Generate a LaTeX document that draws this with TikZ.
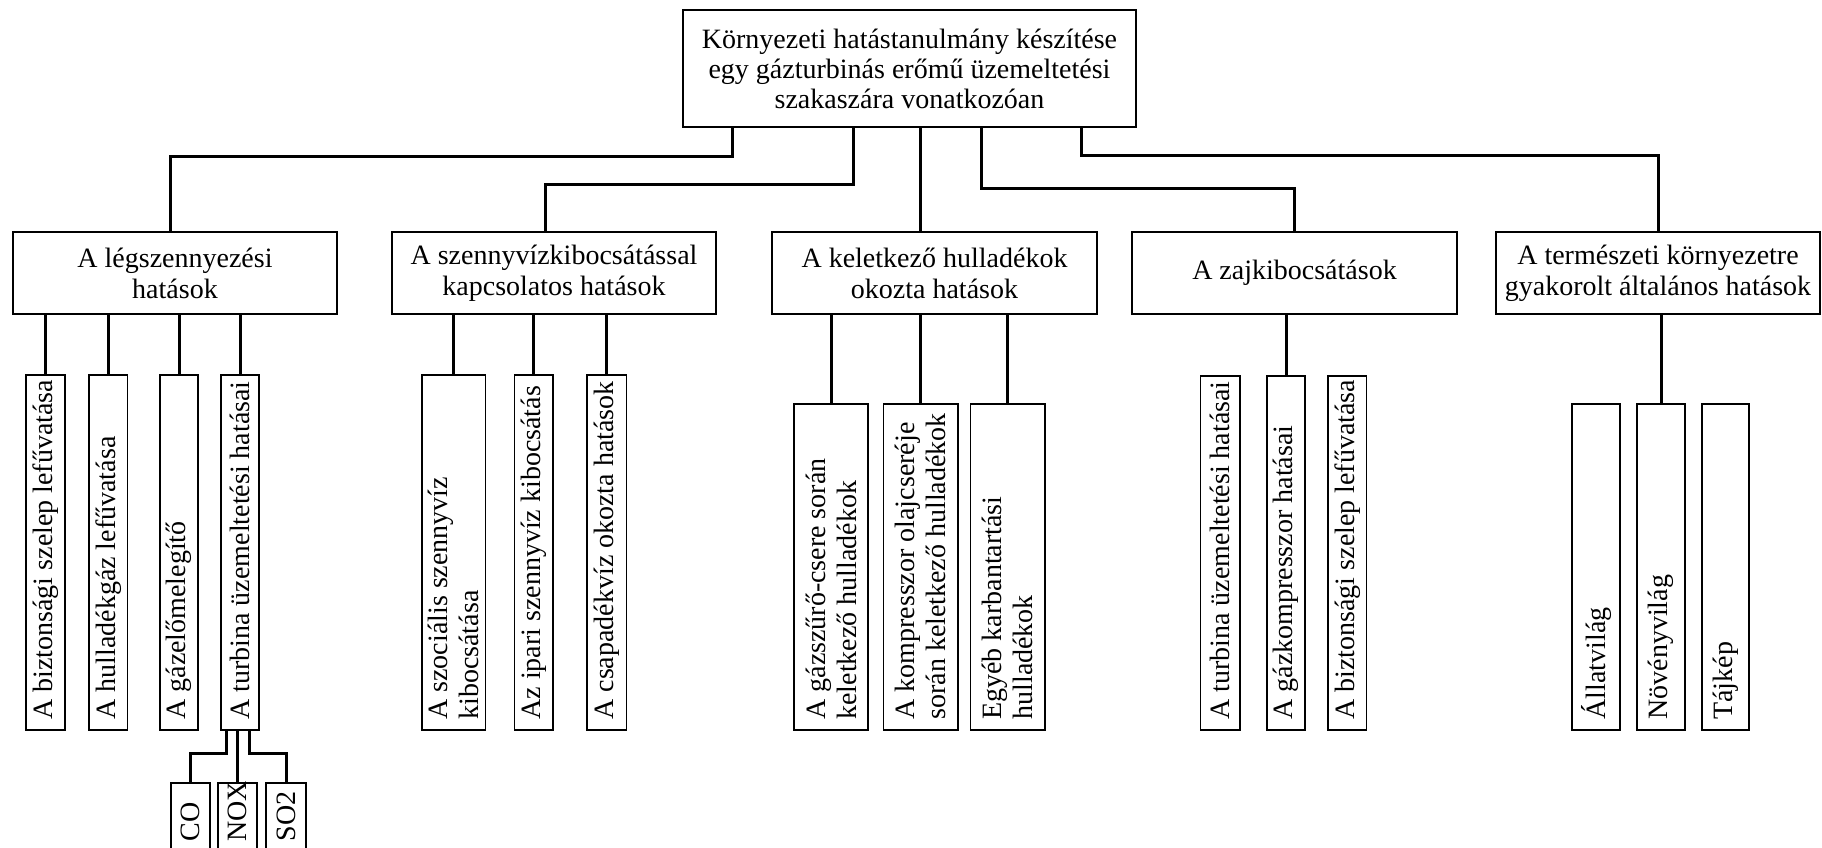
\documentclass[tikz,border=0pt]{standalone}
\usepackage{fontspec}
\setmainfont{Liberation Serif}
\newcommand\leafnode[6]{% name, x-center, top, bottom, width, text
  \pgfmathsetmacro\lflen{#4-#3}%
  \pgfmathsetmacro\lfy{(#3+#4)/2}%
  \node[leaf, minimum width=\lflen pt, minimum height=#5pt] (#1) at (#2,\lfy) {};
  \node[leaftext] (#1-t) at (#1.west) {#6};}
\begin{document}
\begin{tikzpicture}[x=1pt,y=-1pt,
  box/.style={draw, line width=1.5pt, inner sep=0pt, align=center, font=\fontsize{28}{31}\selectfont},
  leaf/.style={draw, line width=1.5pt, rotate=90, inner sep=0pt},
  leaftext/.style={rotate=90, anchor=west, inner xsep=11pt, inner ysep=0pt, align=left, font=\fontsize{28}{31}\selectfont},
  conn/.style={line width=3pt}]
\useasboundingbox (0,0) rectangle (1822,847);
% top
\node[box, minimum width=453pt, minimum height=117pt, font=\fontsize{28}{30}\selectfont] (top) at (909.5,68.5)
  {Környezeti hatástanulmány készítése\\egy gázturbinás erőmű üzemeltetési\\szakaszára vonatkozóan};
% level 2
\node[box, minimum width=324pt, minimum height=82pt] (b1) at (175,273) {A légszennyezési\\hatások};
\node[box, minimum width=324pt, minimum height=82pt] (b2) at (554,273) {A szennyvízkibocsátással\\kapcsolatos hatások};
\node[box, minimum width=325pt, minimum height=82pt] (b3) at (934.5,273) {A keletkező hulladékok\\okozta hatások};
\node[box, minimum width=325pt, minimum height=82pt] (b4) at (1294.5,273) {A zajkibocsátások};
\node[box, minimum width=324pt, minimum height=82pt] (b5) at (1658,273) {A természeti környezetre\\gyakorolt általános hatások};
% leaves of b1
\leafnode{l1}{45.5}{375}{730}{39}{A biztonsági szelep lefűvatása}
\leafnode{l2}{108.3}{375}{730}{38.5}{A hulladékgáz lefűvatása}
\leafnode{l3}{179}{375}{730}{38}{A gázelőmelegítő}
\leafnode{l4}{240}{375}{730}{38}{A turbina üzemeltetési hatásai}
% gases
\leafnode{g1}{190.5}{783}{852}{39}{CO}
\leafnode{g2}{237.5}{783}{852}{39}{NOX}
\leafnode{g3}{286}{783}{852}{40}{SO2}
% leaves of b2
\leafnode{m1}{453.8}{375}{730}{63.5}{A szociális szennyvíz\\kibocsátása}
\leafnode{m2}{533.8}{375}{730}{38.5}{Az ipari szennyvíz kibocsátás}
\leafnode{m3}{606.8}{375}{730}{39.5}{A csapadékvíz okozta hatások}
% leaves of b3
\leafnode{n1}{831}{404}{730}{74}{A gázszűrő-csere során\\keletkező hulladékok}
\leafnode{n2}{920.8}{404}{730}{74.4}{A kompresszor olajcseréje\\során keletkező hulladékok}
\leafnode{n3}{1007.8}{404}{730}{74.4}{Egyéb karbantartási\\hulladékok}
% leaves of b4
\leafnode{p1}{1220.3}{376}{730}{39.4}{A turbina üzemeltetési hatásai}
\leafnode{p2}{1286}{376}{730}{38}{A gázkompresszor hatásai}
\leafnode{p3}{1347.2}{376}{730}{38.5}{A biztonsági szelep lefűvatása}
% leaves of b5
\leafnode{q1}{1596}{404}{730}{48}{Állatvilág}
\leafnode{q2}{1661}{404}{730}{48}{Növényvilág}
\leafnode{q3}{1725.5}{404}{730}{47}{Tájkép}
% top connectors
\draw[conn] ([xshift=-177.5pt]top.south) -- ++(0,29) -| ([xshift=-5pt]b1.north);
\draw[conn] ([xshift=-56.5pt]top.south) -- ++(0,57) -| ([xshift=-9pt]b2.north);
\draw[conn] ([xshift=10.5pt]top.south) -- ([xshift=10.5pt]top.south |- b3.north);
\draw[conn] ([xshift=71.5pt]top.south) -- ++(0,61) -| (b4.north);
\draw[conn] ([xshift=171.5pt]top.south) -- ++(0,28) -| (b5.north);
% level 2 to leaves
\foreach \l in {l1,l2,l3,l4} \draw[conn] (b1.south -| \l.east) -- (\l.east);
\foreach \l in {m1,m2,m3} \draw[conn] (b2.south -| \l.east) -- (\l.east);
\foreach \l in {n1,n2,n3} \draw[conn] (b3.south -| \l.east) -- (\l.east);
\draw[conn] (b4.south -| p2.east) -- (p2.east);
\draw[conn] (b5.south -| q2.east) -- (q2.east);
% turbine to gases
\draw[conn] ([xshift=-14pt]l4.west) -- ++(0,23) -| (g1.east);
\draw[conn] (l4.west -| g2.east) -- (g2.east);
\draw[conn] ([xshift=9pt]l4.west) -- ++(0,23) -| (g3.east);
\end{tikzpicture}
\end{document}
